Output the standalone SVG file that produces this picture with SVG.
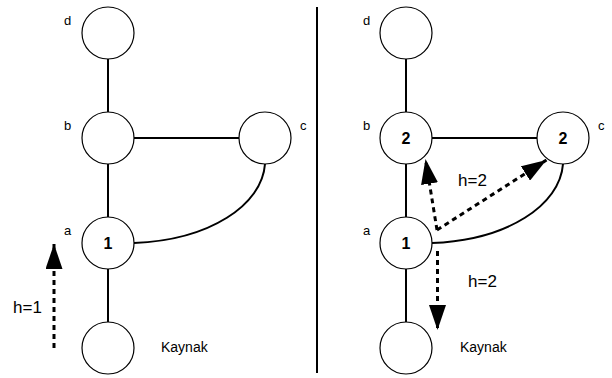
<svg xmlns="http://www.w3.org/2000/svg" width="612" height="378" viewBox="0 0 612 378">
<style>
.node{fill:#fff;stroke:#000;stroke-width:1.2}
.edge{fill:none;stroke:#000;stroke-width:2}
.flow{fill:none;stroke:#000;stroke-width:3;stroke-dasharray:5 4}
.lbl{font-family:"Liberation Sans",Arial,sans-serif;font-size:13px;fill:#000}
.num{font-family:"Liberation Sans",Arial,sans-serif;font-size:16px;font-weight:bold;fill:#000;text-anchor:middle}
.h{font-family:"Liberation Sans",Arial,sans-serif;font-size:17px;fill:#000}
.src{font-family:"Liberation Sans",Arial,sans-serif;font-size:14px;fill:#000}
</style>
<defs>
<marker id="ah" viewBox="0 0 25 17" refX="25" refY="8.5" markerWidth="25" markerHeight="17" markerUnits="userSpaceOnUse" orient="auto">
<path d="M0,0 L25,8.5 L0,17 z" fill="#000"/>
</marker>
</defs>
<g id="connectors">
<line class="edge" x1="108" y1="59" x2="108" y2="112"/>
<line class="edge" x1="108" y1="164" x2="108" y2="217"/>
<line class="edge" x1="108" y1="269" x2="108" y2="322"/>
<line class="edge" x1="134" y1="138" x2="239" y2="138"/>
<path class="edge" d="M134,243 C210,240 262,205 265,164"/>
<line class="edge" x1="406" y1="59" x2="406" y2="112"/>
<line class="edge" x1="406" y1="164" x2="406" y2="217"/>
<line class="edge" x1="406" y1="269" x2="406" y2="322"/>
<line class="edge" x1="432" y1="138" x2="537" y2="138"/>
<path class="edge" d="M432,243 C508,240 560,205 563,164"/>
<line class="flow" x1="54" y1="348" x2="54" y2="244" marker-end="url(#ah)"/>
<line class="flow" x1="437" y1="230" x2="425.5" y2="159" marker-end="url(#ah)"/>
<line class="flow" x1="437" y1="230" x2="546.5" y2="160" marker-end="url(#ah)"/>
<line class="flow" x1="437.5" y1="251" x2="437.5" y2="330" marker-end="url(#ah)"/>
</g>
<line x1="317" y1="7" x2="317" y2="373" stroke="#000" stroke-width="2"/>
<g id="L_d"><circle class="node" cx="108" cy="33" r="26"/><text class="lbl" x="64" y="25">d</text></g>
<g id="L_b"><circle class="node" cx="108" cy="138" r="26"/><text class="lbl" x="64" y="130">b</text></g>
<g id="L_c"><circle class="node" cx="265" cy="138" r="26"/><text class="lbl" x="300" y="130">c</text></g>
<g id="L_a"><circle class="node" cx="108" cy="243" r="26"/><text class="lbl" x="64" y="235">a</text><text class="num" x="108" y="249">1</text></g>
<g id="L_s"><circle class="node" cx="108" cy="348" r="26"/><text class="src" x="161" y="352">Kaynak</text></g>
<text class="h" x="13" y="313">h=1</text>
<g id="R_d"><circle class="node" cx="406" cy="33" r="26"/><text class="lbl" x="363" y="25">d</text></g>
<g id="R_b"><circle class="node" cx="406" cy="138" r="26"/><text class="lbl" x="363" y="130">b</text><text class="num" x="406" y="144">2</text></g>
<g id="R_c"><circle class="node" cx="563" cy="138" r="26"/><text class="lbl" x="598" y="130">c</text><text class="num" x="563" y="144">2</text></g>
<g id="R_a"><circle class="node" cx="406" cy="243" r="26"/><text class="lbl" x="363" y="235">a</text><text class="num" x="406" y="249">1</text></g>
<g id="R_s"><circle class="node" cx="406" cy="348" r="26"/><text class="src" x="460" y="352">Kaynak</text></g>
<text class="h" x="458" y="186">h=2</text>
<text class="h" x="468" y="287">h=2</text>
</svg>
